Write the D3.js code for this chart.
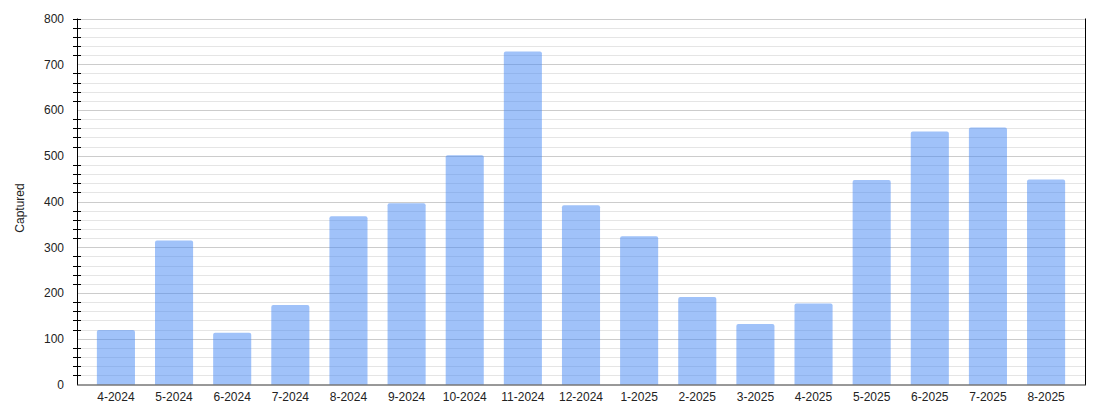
<!DOCTYPE html>
<html><head><meta charset="utf-8">
<script src="https://cdn.jsdelivr.net/npm/d3@7"></script>
<style>body{margin:0;background:#fff}svg{display:block}text{font-family:"Liberation Sans",Arial,sans-serif}</style>
</head><body>
<svg id="chart" width="1094" height="417"></svg>
<script>
const categories = ["4-2024","5-2024","6-2024","7-2024","8-2024","9-2024","10-2024","11-2024","12-2024","1-2025","2-2025","3-2025","4-2025","5-2025","6-2025","7-2025","8-2025"];
const captured = [119,315,113,174,368,396,501,728,392,324,191,132,177,447,553,562,448];
const yTicks = [0,100,200,300,400,500,600,700,800];
const yLabel = "Captured";

(function(){
const svg = d3.select("#chart");
const pLeft = 77, pRight = 1085, pTop = 18.5, pBottom = 384.5;
const y = d3.scaleLinear().domain([0,800]).range([pBottom, pTop]);
const x = d3.scaleBand().domain(categories).range([87,1075]).paddingInner(0.345).paddingOuter(0.17);

const minor = d3.range(0,801,20).filter(v => v % 100 !== 0);
svg.append("g").selectAll("line").data(minor).join("line")
  .attr("x1", pLeft).attr("x2", pRight).attr("y1", d=>Math.round(y(d))+0.5).attr("y2", d=>Math.round(y(d))+0.5)
  .attr("stroke", "#e5e5e5").attr("stroke-width",1);
svg.append("g").selectAll("line").data(yTicks.filter(v=>v>0)).join("line")
  .attr("x1", pLeft).attr("x2", pRight).attr("y1", d=>Math.round(y(d))+0.5).attr("y2", d=>Math.round(y(d))+0.5)
  .attr("stroke", "#cccccc").attr("stroke-width",1);

svg.append("g").selectAll("path").data(categories.map((c,i)=>({c, v:captured[i]}))).join("path")
  .attr("d", d => {
    const x0 = x(d.c), w = x.bandwidth(), y0 = y(d.v), y1 = pBottom, r = 2;
    return `M${x0},${y1}V${y0+r}Q${x0},${y0} ${x0+r},${y0}H${x0+w-r}Q${x0+w},${y0} ${x0+w},${y0+r}V${y1}Z`;
  })
  .attr("fill", "#4285f4").attr("fill-opacity", 0.5);

const yAxis = d3.axisLeft(y).tickValues(yTicks).tickSize(0).tickPadding(13);
const gy = svg.append("g").attr("transform", `translate(${pLeft},0)`).call(yAxis);
gy.select(".domain").remove();
gy.selectAll("text").attr("font-size", 12).attr("fill", "#222").style("font-family", '"Liberation Sans",Arial,sans-serif');
svg.append("g").selectAll("line").data(minor.concat([800])).join("line")
  .attr("x1", pLeft-4).attr("x2", pLeft+4).attr("y1", d=>Math.round(y(d))+0.5).attr("y2", d=>Math.round(y(d))+0.5)
  .attr("stroke", "#000").attr("stroke-width",1);

const xAxis = d3.axisBottom(x).tickSize(0).tickPadding(8);
const gx = svg.append("g").attr("transform", `translate(0,${pBottom})`).call(xAxis);
gx.select(".domain").remove();
gx.selectAll("text").attr("font-size", 12).attr("fill", "#222").style("font-family", '"Liberation Sans",Arial,sans-serif');

svg.append("line").attr("x1", pLeft+0.5).attr("x2", pLeft+0.5).attr("y1", pTop).attr("y2", pBottom+0.5).attr("stroke","#000");
svg.append("line").attr("x1", pRight+0.5).attr("x2", pRight+0.5).attr("y1", pTop).attr("y2", pBottom+0.5).attr("stroke","#000");
svg.append("line").attr("x1", pLeft).attr("x2", pRight+1).attr("y1", pBottom+0.5).attr("y2", pBottom+0.5).attr("stroke","#333");

svg.append("text").attr("transform", `translate(24,208) rotate(-90)`)
  .attr("text-anchor","middle").attr("font-size",12).attr("fill","#222").text(yLabel);
})();
</script>
</body></html>
